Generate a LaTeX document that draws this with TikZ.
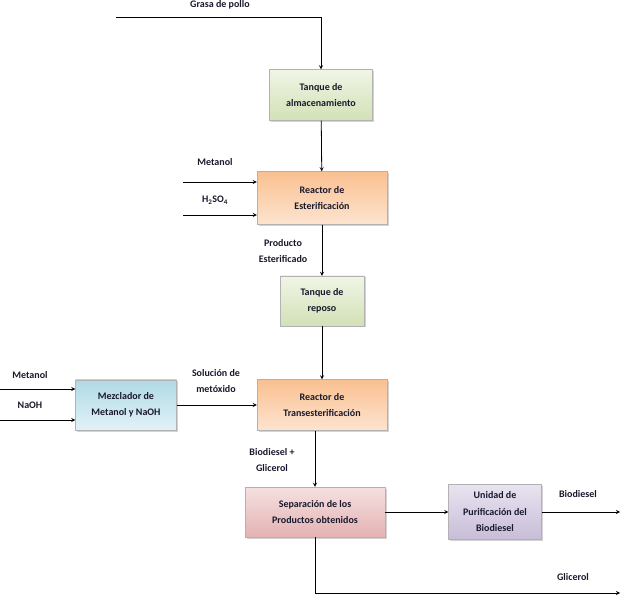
\documentclass[tikz,border=0pt]{standalone}
\usepackage{fontspec}
\setmainfont{Carlito}
\usetikzlibrary{shadows}

\definecolor{tankgreen}{RGB}{210,225,182}
\definecolor{tanklight}{RGB}{240,245,230}
\definecolor{reactororange}{RGB}{250,192,144}
\definecolor{reactorlight}{RGB}{253,228,208}
\definecolor{mixerblue}{RGB}{176,218,230}
\definecolor{mixerlight}{RGB}{226,242,246}
\definecolor{separred}{RGB}{228,178,178}
\definecolor{separlight}{RGB}{246,224,224}
\definecolor{purifpurple}{RGB}{200,189,216}
\definecolor{puriflight}{RGB}{232,227,240}
\definecolor{flowtext}{RGB}{25,25,45}

\begin{document}
\begin{tikzpicture}[x=1pt,y=-1pt,font=\bfseries\fontsize{10}{16.5}\selectfont,>=stealth,
    unit/.style={draw=white!70!black,align=center,inner sep=2pt,text=flowtext,
      drop shadow={opacity=0.35,shadow xshift=1.5pt,shadow yshift=-1.5pt}},
    tank/.style={unit,top color=tanklight,bottom color=tankgreen},
    reactor/.style={unit,top color=reactororange,bottom color=reactorlight},
    mixer/.style={unit,top color=mixerblue,bottom color=mixerlight},
    separator/.style={unit,top color=separlight,bottom color=separred},
    purifier/.style={unit,top color=puriflight,bottom color=purifpurple},
    stream/.style={text=flowtext,align=center,inner sep=1pt},
    flow/.style={->,thick}]
  \useasboundingbox (0,0) rectangle (621,601);
  % equipos
  \node[tank,minimum width=103pt,minimum height=51pt] (storage) at (321,95)
    {Tanque de\\almacenamiento};
  \node[reactor,minimum width=130pt,minimum height=53pt] (ester) at (322,198)
    {Reactor de\\Esterificación};
  \node[tank,minimum width=84pt,minimum height=50pt] (settler) at (322,301)
    {Tanque de\\reposo};
  \node[reactor,minimum width=130pt,minimum height=51pt] (trans) at (322,405)
    {Reactor de\\Transesterificación};
  \node[mixer,minimum width=101pt,minimum height=50pt] (mixer) at (126,405)
    {Mezclador de\\Metanol y NaOH};
  \node[separator,minimum width=140pt,minimum height=50pt] (separation) at (315,512)
    {Separación de los\\Productos obtenidos};
  \node[purifier,minimum width=93pt,minimum height=55pt] (purification) at (495,512)
    {Unidad de\\Purificación del\\Biodiesel};
  % entradas y salidas
  \coordinate (fatin) at (116,17);
  \coordinate (esterA) at (183,182);
  \coordinate (esterB) at (183,215);
  \coordinate (mixA) at (0,389);
  \coordinate (mixB) at (0,420);
  \coordinate (biodout) at (620,512);
  \coordinate (glyout) at (620,593);
  \node[stream] (fatlabel) at (220,5) {Grasa de pollo};
  \node[stream] (methA) at (215,162) {Metanol};
  \node[stream] (acid) at (215,200) {H\textsubscript{2}SO\textsubscript{4}};
  \node[stream] (esterprod) at (283,251) {Producto\\Esterificado};
  \node[stream] (methB) at (30,375) {Metanol};
  \node[stream] (base) at (30,405) {NaOH};
  \node[stream] (methoxide) at (216,381) {Solución de\\metóxido};
  \node[stream] (mixture) at (272,460) {Biodiesel +\\Glicerol};
  \node[stream] (biodiesel) at (578,494) {Biodiesel};
  \node[stream] (glycerol) at (573,577) {Glicerol};
  % corrientes
  \draw[flow] (fatin) -| (storage.north);
  \draw[flow] (storage) -- (ester);
  \draw[flow] (esterA) -- (esterA -| ester.west);
  \draw[flow] (esterB) -- (esterB -| ester.west);
  \draw[flow] (ester) -- (settler);
  \draw[flow] (settler) -- (trans);
  \draw[flow] (mixA) -- (mixA -| mixer.west);
  \draw[flow] (mixB) -- (mixB -| mixer.west);
  \draw[flow] (mixer) -- (trans);
  \draw[flow] (trans.south -| separation.north) -- (separation.north);
  \draw[flow] (separation) -- (purification);
  \draw[flow] (purification) -- (biodout);
  \draw[flow] (separation.south) |- (glyout);
\end{tikzpicture}
\end{document}
